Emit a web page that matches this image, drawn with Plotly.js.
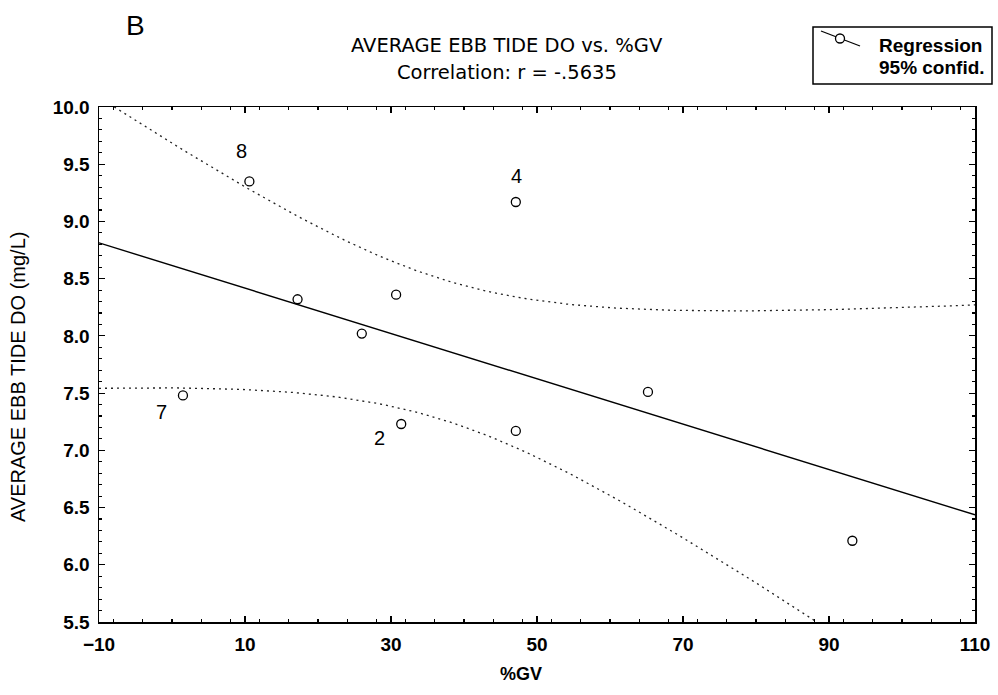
<!DOCTYPE html>
<html><head><meta charset="utf-8">
<script src="https://cdn.plot.ly/plotly-3.0.1.min.js"></script>
<style>html,body{margin:0;padding:0;background:#fff}#chart{width:998px;height:695px}</style>
</head><body><div id="chart"></div>
<script>
// ---- data ----
const gvPercent   = [1.5, 10.6, 17.2, 26.0, 30.7, 31.4, 47.1, 47.1, 65.2, 93.2];
const ebbTideDO   = [7.48, 9.35, 8.32, 8.02, 8.36, 7.23, 9.17, 7.17, 7.51, 6.21];
const pointLabels = ["7", "8", "", "", "", "2", "4", "", "", ""];
const xTickVals   = [-10, 10, 30, 50, 70, 90, 110];
const yTickVals   = [5.5, 6.0, 6.5, 7.0, 7.5, 8.0, 8.5, 9.0, 9.5, 10.0];
const T_CRIT_95_DF8 = 2.306;

// ---- linear regression of the points with 95% confidence band ----
const n = gvPercent.length;
const mx = gvPercent.reduce((a, b) => a + b, 0) / n;
const my = ebbTideDO.reduce((a, b) => a + b, 0) / n;
let sxx = 0, sxy = 0;
for (let i = 0; i < n; i++) { sxx += (gvPercent[i] - mx) ** 2; sxy += (gvPercent[i] - mx) * (ebbTideDO[i] - my); }
const slope = sxy / sxx, icpt = my - slope * mx;
let sse = 0;
for (let i = 0; i < n; i++) sse += (ebbTideDO[i] - (icpt + slope * gvPercent[i])) ** 2;
const se = Math.sqrt(sse / (n - 2));
const fitX = [], fitY = [], upY = [], loY = [];
for (let x = -10; x <= 110.001; x += 1) {
  const yh = icpt + slope * x;
  const hw = T_CRIT_95_DF8 * se * Math.sqrt(1 / n + (x - mx) ** 2 / sxx);
  fitX.push(x); fitY.push(yh); upY.push(yh + hw); loY.push(yh - hw);
}

// ---- layout helpers (pixel -> paper) ----
const W = 998, H = 695, L = 99, R = 975, T = 107, B = 622;
const px = v => (v - L) / (R - L);
const py = v => (B - v) / (B - T);
const labelShift = { "7": [-21, -17], "8": [-8, 30], "2": [-22, -14], "4": [1, 26] };

const FONT = "Liberation Sans, Arial, sans-serif";
const TITLE_FONT = "DejaVu Sans, Liberation Sans, sans-serif";
const traces = [
  { x: fitX, y: upY, mode: "lines", line: { color: "#222", width: 1.3, dash: "2px,4px" }, hoverinfo: "skip" },
  { x: fitX, y: loY, mode: "lines", line: { color: "#222", width: 1.3, dash: "2px,4px" }, hoverinfo: "skip" },
  { x: fitX, y: fitY, mode: "lines", line: { color: "#000", width: 1.4 }, hoverinfo: "skip" },
  { x: gvPercent, y: ebbTideDO, mode: "markers",
    marker: { symbol: "circle-open", size: 9, color: "#000", line: { width: 1.3, color: "#000" } } }
];

const ann = (x, y, text, font, extra) => Object.assign({ x: px(x), y: py(y), xref: "paper", yref: "paper",
  xanchor: "center", yanchor: "middle", text, showarrow: false, font: Object.assign({ family: FONT, color: "#000" }, font) }, extra || {});

const annotations = [];
pointLabels.forEach((t, i) => {
  if (!t) return;
  annotations.push({ x: gvPercent[i], y: ebbTideDO[i], xref: "x", yref: "y", text: t, showarrow: false,
    xanchor: "center", yanchor: "middle",
    xshift: labelShift[t][0], yshift: labelShift[t][1], font: { family: FONT, size: 20, color: "#000" } });
});
annotations.push(
  ann(135, 26, "B", { size: 28 }),
  ann(507, 45, "AVERAGE EBB TIDE DO vs. %GV", { size: 19.5, family: TITLE_FONT }),
  ann(507, 73, "Correlation: r = -.5635", { size: 19.5, family: TITLE_FONT }),
  ann(877, 45, "Regression", { size: 19, weight: "bold" }, { xanchor: "left" }),
  ann(877, 67, "95% confid.", { size: 19, weight: "bold" }, { xanchor: "left" }),
  ann(521, 674, "%GV", { size: 18, weight: "bold" }),
  ann(18, 377, "AVERAGE EBB TIDE DO (mg/L)", { size: 20 }, { textangle: -90 })
);

const shapes = [
  { type: "rect", xref: "paper", yref: "paper", x0: px(813), x1: px(992), y0: py(84), y1: py(27), line: { color: "#000", width: 1.5 }, fillcolor: "#fff" },
  { type: "line", xref: "paper", yref: "paper", x0: px(821), x1: px(860), y0: py(31), y1: py(46), line: { color: "#000", width: 1.3 } },
  { type: "circle", xref: "paper", yref: "paper", xsizemode: "pixel", ysizemode: "pixel", xanchor: px(840), yanchor: py(38.5),
    x0: -4.5, x1: 4.5, y0: -4.5, y1: 4.5, line: { color: "#000", width: 1.3 }, fillcolor: "#fff" }
];

const axisCommon = {
  showgrid: false, zeroline: false, showline: true, linecolor: "#000", linewidth: 1.5, mirror: "allticks",
  ticks: "inside", ticklen: 6, tickcolor: "#000", tickwidth: 1.2,
  tickfont: { family: FONT, size: 19, color: "#000", weight: "bold" }
};
const layout = {
  width: W, height: H, paper_bgcolor: "#fff", plot_bgcolor: "#fff", showlegend: false,
  margin: { l: L, r: W - R, t: T, b: H - B },
  xaxis: Object.assign({}, axisCommon, {
    range: [-10, 110], tickvals: xTickVals, ticklabelstandoff: 5,
    minor: { dtick: 4, ticks: "inside", ticklen: 3, tickcolor: "#000" }
  }),
  yaxis: Object.assign({}, axisCommon, {
    range: [5.5, 10.0], tickvals: yTickVals, tickformat: ".1f", ticklabelstandoff: 4,
    minor: { dtick: 0.1, ticks: "inside", ticklen: 3, tickcolor: "#000" }
  }),
  annotations, shapes
};
Plotly.newPlot("chart", traces, layout, { displayModeBar: false, staticPlot: true });
</script></body></html>
